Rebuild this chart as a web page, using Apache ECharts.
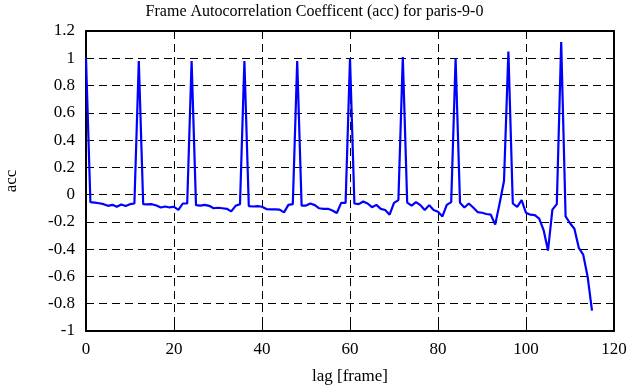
<!DOCTYPE html>
<html>
<head>
<meta charset="utf-8">
<script src="https://cdn.jsdelivr.net/npm/echarts@6/dist/echarts.min.js"></script>
<style>
html,body{margin:0;padding:0;background:#fff;}
#c{width:629px;height:387px;}
</style>
</head>
<body>
<div id="c"></div>
<script>
var titleText = "Frame Autocorrelation Coefficent (acc) for paris-9-0";
var xLabel = "lag [frame]";
var yLabel = "acc";
// acc values for lag 0..115
var acc = [
  1.00, -0.055, -0.058, -0.063, -0.07, -0.082, -0.075, -0.089, -0.072, -0.084,
  -0.07, -0.065, 0.98, -0.07, -0.072, -0.07, -0.08, -0.094, -0.087, -0.094,
  -0.089, -0.112, -0.065, -0.065, 0.98, -0.077, -0.08, -0.075, -0.082, -0.10,
  -0.096, -0.10, -0.104, -0.123, -0.082, -0.07, 0.98, -0.084, -0.087, -0.084,
  -0.089, -0.106, -0.108, -0.108, -0.11, -0.13, -0.075, -0.07, 0.98, -0.08,
  -0.08, -0.065, -0.077, -0.10, -0.104, -0.104, -0.116, -0.135, -0.06, -0.06,
  1.00, -0.065, -0.07, -0.05, -0.065, -0.092, -0.075, -0.104, -0.113, -0.147,
  -0.06, -0.04, 1.01, -0.058, -0.08, -0.055, -0.077, -0.113, -0.077, -0.113,
  -0.125, -0.16, -0.075, -0.055, 1.00, -0.06, -0.094, -0.065, -0.094, -0.128,
  -0.133, -0.142, -0.147, -0.22, -0.065, 0.10, 1.05, -0.065, -0.09, -0.04,
  -0.133, -0.147, -0.15, -0.176, -0.26, -0.41, -0.11, -0.07, 1.12, -0.16,
  -0.21, -0.25, -0.39, -0.44, -0.60, -0.85
];
var lags = acc.map(function(_, i){ return i; });
var xTicks = {min: 0, max: 120, interval: 20};
var yTicks = {min: -1, max: 1.2, interval: 0.2};

var chart = echarts.init(document.getElementById('c'), null, {renderer: 'canvas'});
var font = "'Liberation Serif', 'DejaVu Serif', serif";
var dash = {show: true, lineStyle: {color: '#000', width: 1, type: [8, 5]}};
function axisBase(extra){
  var o = {
    type: 'value',
    axisLine: {show: true, onZero: false, lineStyle: {color: '#000', width: 2}},
    axisTick: {show: true, inside: true, length: 8, lineStyle: {color: '#000', width: 1}},
    axisLabel: {color: '#000', fontFamily: font, fontSize: 17},
    splitLine: {show: false}
  };
  for (var k in extra) o[k] = extra[k];
  return o;
}
var option = {
  animation: false,
  backgroundColor: '#fff',
  title: {
    text: titleText, left: 'center', top: -1,
    textStyle: {fontFamily: font, fontSize: 16, fontWeight: 'normal', color: '#000'}
  },
  grid: {left: 86, right: 15, top: 31, bottom: 56, containLabel: false, outerBoundsMode: 'none'},
  xAxis: [
    axisBase({position: 'bottom', min: xTicks.min, max: xTicks.max, interval: xTicks.interval,
      name: xLabel, nameLocation: 'middle', nameGap: 37,
      nameTextStyle: {fontFamily: font, fontSize: 17, color: '#000'},
      axisLabel: {color: '#000', fontFamily: font, fontSize: 17, margin: 10},
      splitLine: dash}),
    axisBase({position: 'top', min: xTicks.min, max: xTicks.max, interval: xTicks.interval,
      axisLabel: {show: false}})
  ],
  yAxis: [
    axisBase({position: 'left', min: yTicks.min, max: yTicks.max, interval: yTicks.interval,
      name: yLabel, nameLocation: 'middle', nameGap: 66, nameRotate: 90,
      nameTextStyle: {fontFamily: font, fontSize: 17, color: '#000'},
      axisLabel: {color: '#000', fontFamily: font, fontSize: 17, margin: 11, padding: [5, 0, 0, 0]},
      splitLine: dash}),
    axisBase({position: 'right', min: yTicks.min, max: yTicks.max, interval: yTicks.interval,
      axisLabel: {show: false}})
  ],
  series: [{
    type: 'line',
    xAxisIndex: 0, yAxisIndex: 0,
    data: lags.map(function(l, i){ return [l, acc[i]]; }),
    showSymbol: false,
    lineStyle: {color: '#0000ff', width: 2.2},
    itemStyle: {color: '#0000ff'}
  }]
};
chart.setOption(option);
</script>
</body>
</html>
